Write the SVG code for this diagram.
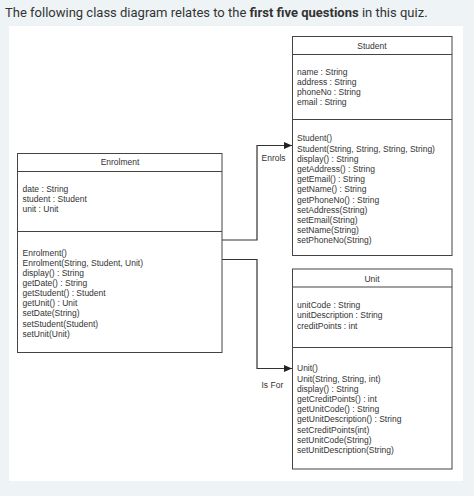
<svg xmlns="http://www.w3.org/2000/svg" width="474" height="496" viewBox="0 0 474 496">
<defs>
<style>
.t{font-family:"Liberation Sans",Arial,sans-serif;font-size:8.5px;fill:#333}
.c{text-anchor:middle}
.box{fill:#fff;stroke:#444;stroke-width:1}
.ln{stroke:#444;stroke-width:1}
.con{fill:none;stroke:#333;stroke-width:1.2}
.h{font-family:Roboto,"Liberation Sans",sans-serif;font-size:13px;fill:#333}
</style>
<marker id="arr" markerWidth="8" markerHeight="7" refX="8" refY="3.5" orient="auto" markerUnits="userSpaceOnUse">
<path d="M0,0 L8,3.5 L0,7 Z" fill="#222"/>
</marker>
</defs>
<rect x="0" y="0" width="474" height="496" fill="#eef3f6"/>
<rect x="9" y="26" width="454" height="455" fill="#fff"/>
<text class="h" x="5" y="16.7">The following class diagram relates to the <tspan font-weight="bold">first five questions</tspan> in this quiz.</text>

<g id="connectors">
<polyline class="con" points="222,240 257,240 257,145.5 292,145.5" marker-end="url(#arr)"/>
<polyline class="con" points="222,259.5 257,259.5 257,368.5 292,368.5" marker-end="url(#arr)"/>
<text class="t" x="261.5" y="161">Enrols</text>
<text class="t" x="261.5" y="387.5">Is For</text>
</g>

<g id="student">
<rect class="box" x="292.5" y="36.5" width="159.5" height="219"/>
<line class="ln" x1="292.5" y1="54.5" x2="452" y2="54.5"/>
<line class="ln" x1="292.5" y1="119.5" x2="452" y2="119.5"/>
<text class="t c" x="372" y="49">Student</text>
<text class="t" x="297">
<tspan x="297" y="74.7">name : String</tspan>
<tspan x="297" y="84.7">address : String</tspan>
<tspan x="297" y="94.7">phoneNo : String</tspan>
<tspan x="297" y="104.5">email : String</tspan>
</text>
<text class="t" x="297">
<tspan x="297" y="141.3">Student()</tspan>
<tspan x="297" y="151.5">Student(String, String, String, String)</tspan>
<tspan x="297" y="161.7">display() : String</tspan>
<tspan x="297" y="171.9">getAddress() : String</tspan>
<tspan x="297" y="182.1">getEmail() : String</tspan>
<tspan x="297" y="192.3">getName() : String</tspan>
<tspan x="297" y="202.5">getPhoneNo() : String</tspan>
<tspan x="297" y="212.7">setAddress(String)</tspan>
<tspan x="297" y="222.9">setEmail(String)</tspan>
<tspan x="297" y="233.1">setName(String)</tspan>
<tspan x="297" y="243.3">setPhoneNo(String)</tspan>
</text>
</g>

<g id="enrolment">
<rect class="box" x="17.5" y="153.5" width="204.5" height="199"/>
<line class="ln" x1="17.5" y1="171.5" x2="222" y2="171.5"/>
<line class="ln" x1="17.5" y1="231.5" x2="222" y2="231.5"/>
<text class="t c" x="120" y="165.3">Enrolment</text>
<text class="t" x="22.5">
<tspan x="22.5" y="192.3">date : String</tspan>
<tspan x="22.5" y="202.3">student : Student</tspan>
<tspan x="22.5" y="212.3">unit : Unit</tspan>
</text>
<text class="t" x="22.5">
<tspan x="22.5" y="255.8">Enrolment()</tspan>
<tspan x="22.5" y="265.9">Enrolment(String, Student, Unit)</tspan>
<tspan x="22.5" y="276">display() : String</tspan>
<tspan x="22.5" y="286.1">getDate() : String</tspan>
<tspan x="22.5" y="296.2">getStudent() : Student</tspan>
<tspan x="22.5" y="306.3">getUnit() : Unit</tspan>
<tspan x="22.5" y="316.4">setDate(String)</tspan>
<tspan x="22.5" y="326.5">setStudent(Student)</tspan>
<tspan x="22.5" y="336.6">setUnit(Unit)</tspan>
</text>
</g>

<g id="unit">
<rect class="box" x="292.5" y="269" width="159.5" height="200"/>
<line class="ln" x1="292.5" y1="287" x2="452" y2="287"/>
<line class="ln" x1="292.5" y1="347.5" x2="452" y2="347.5"/>
<text class="t c" x="372" y="282">Unit</text>
<text class="t" x="297">
<tspan x="297" y="308">unitCode : String</tspan>
<tspan x="297" y="318.3">unitDescription : String</tspan>
<tspan x="297" y="328.6">creditPoints : int</tspan>
</text>
<text class="t" x="297">
<tspan x="297" y="371.3">Unit()</tspan>
<tspan x="297" y="381.5">Unit(String, String, int)</tspan>
<tspan x="297" y="391.7">display() : String</tspan>
<tspan x="297" y="401.9">getCreditPoints() : int</tspan>
<tspan x="297" y="412.1">getUnitCode() : String</tspan>
<tspan x="297" y="422.3">getUnitDescription() : String</tspan>
<tspan x="297" y="432.5">setCreditPoints(int)</tspan>
<tspan x="297" y="442.7">setUnitCode(String)</tspan>
<tspan x="297" y="452.9">setUnitDescription(String)</tspan>
</text>
</g>
</svg>
